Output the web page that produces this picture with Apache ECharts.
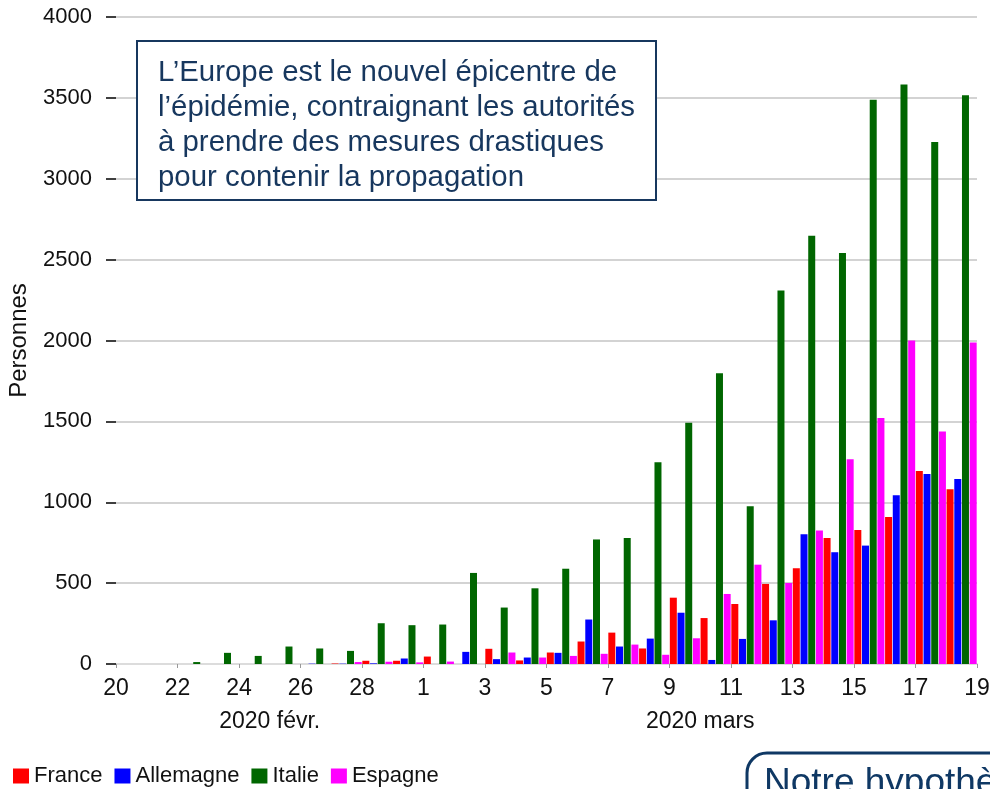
<!DOCTYPE html>
<html>
<head>
<meta charset="utf-8">
<script src="https://cdn.jsdelivr.net/npm/echarts@6/dist/echarts.min.js"></script>
<style>
    html, body { margin: 0; padding: 0; background: #fff; }
    #main { width: 990px; height: 789px; }
</style>
</head>
<body>
<div id="main"></div>
<script>
// nouveaux cas par jour, du 20 févr. au 18 mars 2020
var countries = ['France', 'Allemagne', 'Italie', 'Espagne'];
var colors = ['#ff0000', '#0000ff', '#006600', '#ff00ff'];

var france = [0, 0, 0, 0, 0, 0, 0, 3, 20, 20, 46, 0, 94, 22, 71, 139, 194, 96, 410, 284, 371, 495, 592, 779, 829, 909, 1193, 1080];
var allemagne = [0, 0, 0, 0, 0, 0, 2, 2, 4, 34, 0, 75, 30, 40, 69, 275, 108, 157, 317, 25, 155, 270, 802, 691, 732, 1043, 1175, 1144];
var italie = [0, 0, 12, 69, 50, 108, 96, 81, 252, 240, 244, 563, 349, 468, 589, 770, 779, 1248, 1492, 1797, 975, 2309, 2648, 2541, 3489, 3583, 3227, 3517];
var espagne = [0, 0, 0, 0, 0, 0, 0, 12, 14, 10, 15, 0, 71, 40, 50, 63, 120, 57, 159, 433, 614, 501, 825, 1266, 1521, 2000, 1437, 1987];

// un label tous les 2 jours
var dayLabels = ['20', '22', '24', '26', '28', '1', '3', '5', '7', '9', '11', '13', '15', '17', '19'];
var months = ['2020 févr.', '2020 mars'];
var monthDays = [10, 18]; // jours de chaque mois dans la période

var allData = [france, allemagne, italie, espagne];
var nDays = france.length;

// milieu de chaque mois sur l'axe
var monthCenters = [];
var start = 0;
monthDays.forEach(function (d) {
    monthCenters.push(start + d / 2);
    start += d;
});

var font = 'Liberation Sans, Arial, sans-serif';
var navy = '#17375e';

var option = {
    backgroundColor: '#fff',
    animation: false,
    grid: {
        left: 116,
        right: 13,
        top: 17,
        bottom: 125,
        outerBoundsMode: 'none'
    },
    legend: {
        data: countries,
        left: 8,
        top: 760,
        icon: 'rect',
        itemWidth: 16,
        itemHeight: 15,
        itemGap: 12,
        textStyle: {
            fontFamily: font,
            fontSize: 22,
            color: '#111'
        }
    },
    xAxis: [{
        type: 'value',
        min: 0,
        max: nDays,
        interval: 2,
        axisLine: {
            show: true,
            lineStyle: { color: '#dcdcdc', width: 2 }
        },
        axisTick: {
            show: true,
            length: 4,
            lineStyle: { color: '#999', width: 1 }
        },
        splitLine: { show: false },
        axisLabel: {
            margin: 13,
            fontFamily: font,
            fontSize: 23,
            color: '#111',
            formatter: function (v) {
                return dayLabels[Math.round(v / 2)] || '';
            }
        }
    }, {
        type: 'value',
        position: 'bottom',
        min: 0,
        max: nDays,
        interval: 1,
        offset: 33,
        axisLine: { show: false },
        axisTick: { show: false },
        splitLine: { show: false },
        axisLabel: {
            margin: 13,
            fontFamily: font,
            fontSize: 23,
            color: '#111',
            formatter: function (v) {
                var k = monthCenters.indexOf(v);
                return k >= 0 ? months[k] : '';
            }
        }
    }],
    yAxis: {
        type: 'value',
        name: 'Personnes',
        nameLocation: 'middle',
        nameGap: 78,
        nameTextStyle: {
            fontFamily: font,
            fontSize: 24,
            color: '#111'
        },
        min: 0,
        max: 4000,
        interval: 500,
        offset: 7,
        axisLine: { show: false },
        axisTick: {
            show: true,
            length: 10,
            lineStyle: { color: '#000', width: 1.5 }
        },
        splitLine: {
            lineStyle: { color: '#c4c4c4', width: 1.5 }
        },
        axisLabel: {
            margin: 17,
            fontFamily: font,
            fontSize: 22,
            color: '#111',
            formatter: function (v) {
                return String(v);
            }
        }
    },
    graphic: [{
        type: 'rect',
        shape: { x: 137, y: 41, width: 519, height: 159 },
        style: { fill: '#fff', stroke: navy, lineWidth: 2 },
        z: 100
    }, {
        type: 'text',
        x: 158,
        y: 55,
        style: {
            text: 'L\u2019Europe est le nouvel épicentre de\nl\u2019épidémie, contraignant les autorités\nà prendre des mesures drastiques\npour contenir la propagation',
            font: '29.4px ' + font,
            lineHeight: 35,
            fill: navy,
            verticalAlign: 'top'
        },
        z: 101
    }, {
        type: 'rect',
        shape: { x: 747, y: 753, width: 400, height: 120, r: 20 },
        style: { fill: '#fff', stroke: '#0f3864', lineWidth: 3 },
        z: 100
    }, {
        type: 'text',
        x: 764,
        y: 765,
        style: {
            text: 'Notre hypothèse',
            font: '37px ' + font,
            fill: '#0f3864',
            verticalAlign: 'top'
        },
        z: 101
    }],
    series: []
};

countries.forEach(function (name, k) {
    option.series.push({
        name: name,
        type: 'bar',
        barWidth: 7,
        barGap: '10%',
        itemStyle: { color: colors[k] },
        data: allData[k].map(function (v, i) {
            return [i + 0.5, v];
        })
    });
});

var myChart = echarts.init(document.getElementById('main'));
myChart.setOption(option);
</script>
</body>
</html>
